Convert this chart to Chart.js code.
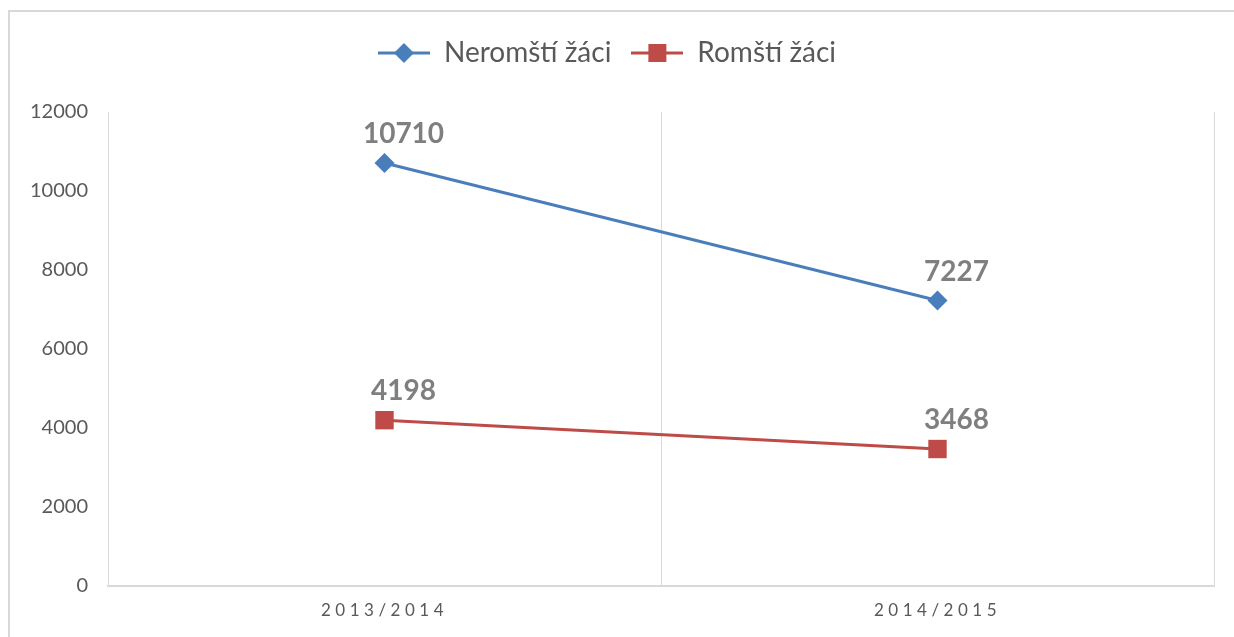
<!DOCTYPE html>
<html>
<head>
<meta charset="utf-8">
<script src="https://cdn.jsdelivr.net/npm/chart.js@4"></script>
<style>
  body { margin: 0; background: #fff; }
  #box { position: absolute; left: 8px; top: 10px; width: 1240px; height: 640px;
         border-top: 2px solid #d9d9d9; border-left: 2px solid #d9d9d9; }
  #wrap { position: absolute; left: 0; top: 0; width: 1234px; height: 637px; }
</style>
</head>
<body>
<div id="box"></div>
<div id="wrap"><canvas id="chart"></canvas></div>
<script>
// chart data
const years = ["2013/2014", "2014/2015"];
const seriesNames = ["Neromští žáci", "Romští žáci"];
const neromsti = [10710, 7227];
const romsti = [4198, 3468];
const yTicks = [0, 2000, 4000, 6000, 8000, 10000, 12000];

const blue = "#4a7ebb";
const red = "#be4b48";
const font = "Lato";

// small legend icon: line with marker in the middle
function legendIcon(color, shape) {
  const c = document.createElement("canvas");
  c.width = 52; c.height = 22;
  const g = c.getContext("2d");
  g.strokeStyle = color; g.lineWidth = 3;
  g.beginPath(); g.moveTo(0, 11); g.lineTo(52, 11); g.stroke();
  g.fillStyle = color;
  g.beginPath();
  if (shape === "diamond") {
    g.moveTo(26, 1); g.lineTo(36, 11); g.lineTo(26, 21); g.lineTo(16, 11);
  } else {
    g.rect(17, 2, 18, 18);
  }
  g.fill();
  return c;
}
const icons = [legendIcon(blue, "diamond"), legendIcon(red, "square")];

// value labels above points
const valueLabels = {
  id: "valueLabels",
  afterDatasetsDraw(chart) {
    const ctx = chart.ctx;
    ctx.save();
    ctx.font = "bold 28px " + font;
    ctx.fillStyle = "#7f7f7f";
    ctx.textAlign = "center";
    ctx.textBaseline = "middle";
    chart.data.datasets.forEach((ds, i) => {
      chart.getDatasetMeta(i).data.forEach((pt, j) => {
        ctx.fillText(String(ds.data[j]), pt.x + 19, pt.y - 29);
      });
    });
    ctx.restore();
  }
};

// spaced out x labels
const spacedX = {
  id: "spacedX",
  beforeDraw(chart) {
    const sc = chart.scales.x;
    if (sc._spaced) return;
    const orig = sc.drawLabels;
    sc.drawLabels = function (area) {
      this.ctx.save();
      this.ctx.letterSpacing = "4.5px";
      orig.call(this, area);
      this.ctx.restore();
    };
    sc._spaced = true;
  }
};

const ctx = document.getElementById("chart").getContext("2d");
new Chart(ctx, {
  type: "line",
  data: {
    labels: years,
    datasets: [
      {
        label: seriesNames[0],
        data: neromsti,
        borderColor: blue,
        backgroundColor: blue,
        borderWidth: 3,
        pointStyle: "rectRot",
        pointRadius: 10,
        pointHoverRadius: 10,
        pointBorderWidth: 0
      },
      {
        label: seriesNames[1],
        data: romsti,
        borderColor: red,
        backgroundColor: red,
        borderWidth: 3,
        pointStyle: "rect",
        pointRadius: 13,
        pointHoverRadius: 13,
        pointBorderWidth: 0
      }
    ]
  },
  options: {
    responsive: true,
    maintainAspectRatio: false,
    animation: false,
    layout: { padding: { top: 19, right: 20, bottom: 0, left: 0 } },
    plugins: {
      tooltip: { enabled: false },
      legend: {
        position: "top",
        labels: {
          usePointStyle: true,
          pointStyleWidth: 52,
          padding: 20,
          color: "#595959",
          font: { family: font, size: 28 },
          generateLabels(chart) {
            return chart.data.datasets.map((ds, i) => ({
              text: ds.label,
              pointStyle: icons[i],
              fillStyle: ds.borderColor,
              strokeStyle: ds.borderColor,
              lineWidth: 0,
              hidden: false,
              datasetIndex: i,
              fontColor: "#595959"
            }));
          }
        }
      },
      // empty spacer between legend and plot
      subtitle: {
        display: true,
        text: "",
        weight: 500,
        font: { size: 1, lineHeight: 1 },
        padding: { top: 0, bottom: 34 }
      }
    },
    scales: {
      x: {
        offset: true,
        grid: { offset: true, color: "#d9d9d9", lineWidth: 1, drawTicks: false },
        border: { display: true, color: "#d9d9d9", width: 2 },
        ticks: { color: "#595959", padding: 14, font: { family: font, size: 17 } },
        afterFit(scale) { scale.height = 51; }
      },
      y: {
        min: 0,
        max: 12000,
        afterBuildTicks(scale) { scale.ticks = yTicks.map(v => ({ value: v })); },
        grid: { display: false, drawTicks: false },
        border: { display: false },
        ticks: {
          color: "#595959",
          padding: 20,
          font: { family: font, size: 20 },
          callback: (v) => String(v)
        },
        afterFit(scale) { scale.width = 108; }
      }
    }
  },
  plugins: [valueLabels, spacedX]
});
</script>
</body>
</html>
